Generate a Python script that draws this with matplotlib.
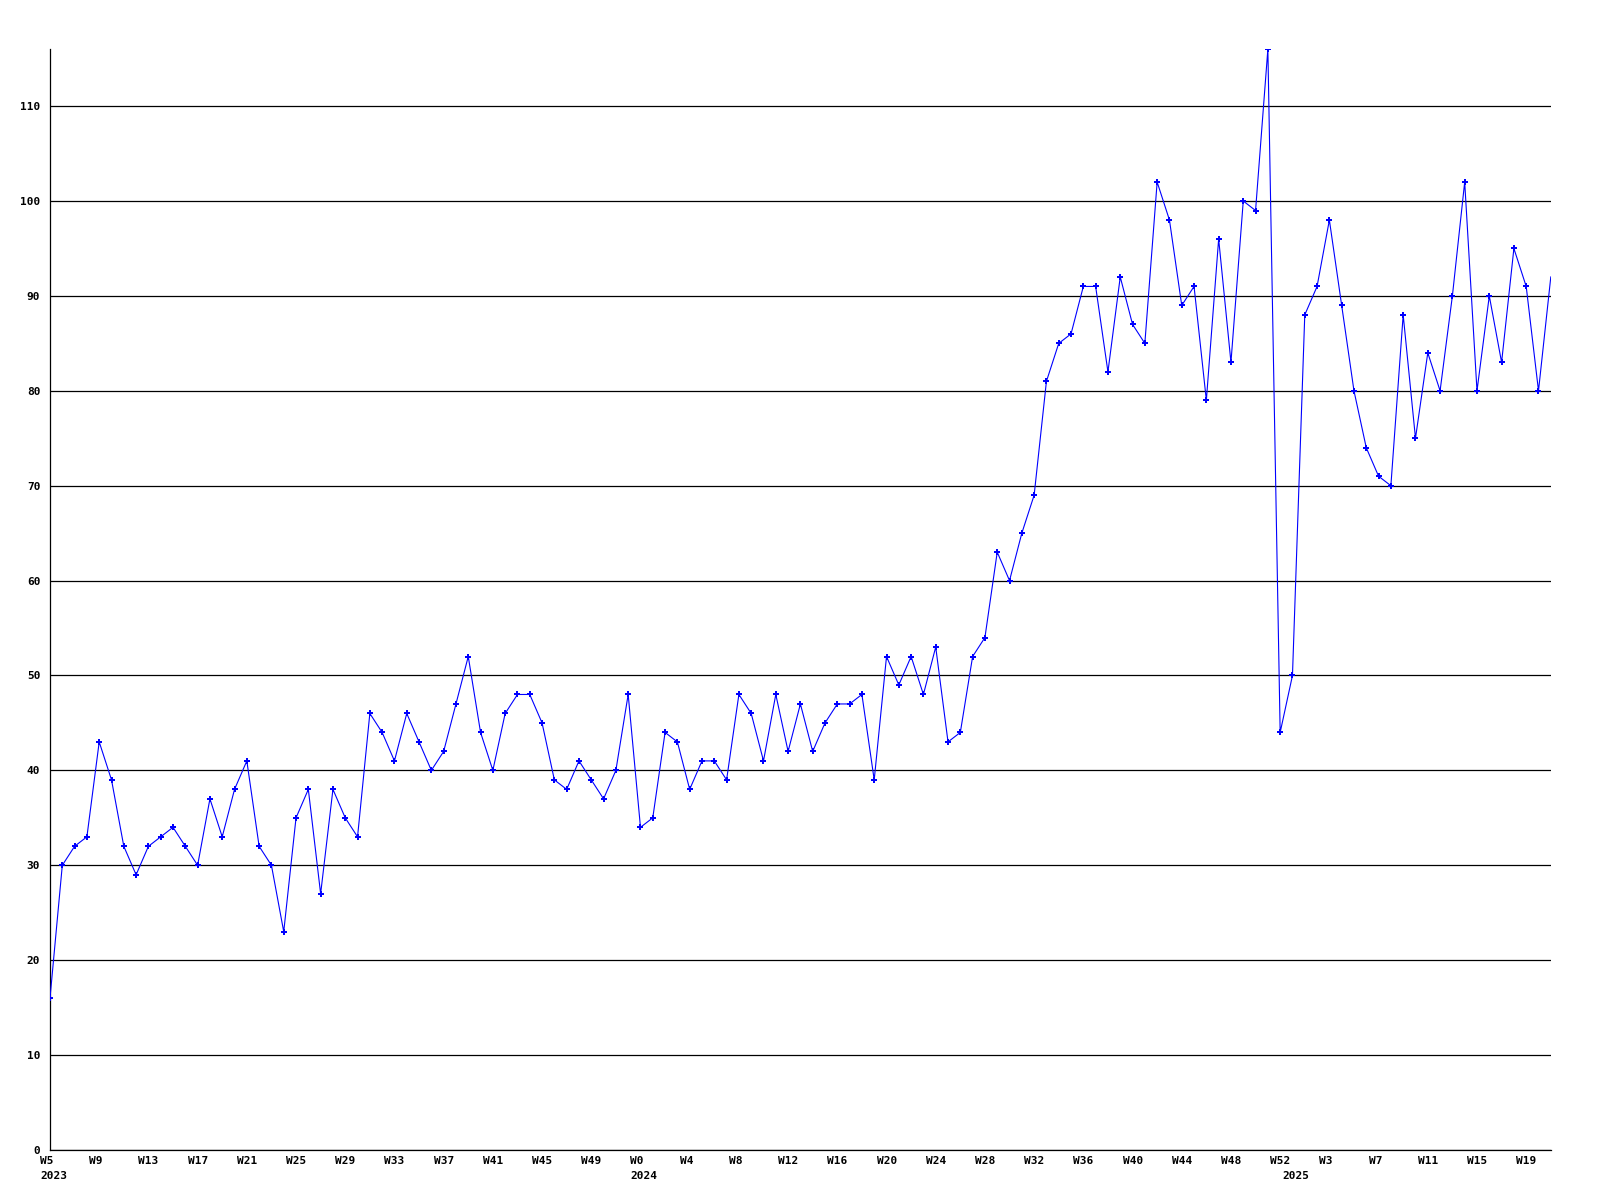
import matplotlib
matplotlib.use("Agg")
import matplotlib.pyplot as plt
from matplotlib.transforms import ScaledTranslation

# weekly values, 2023-W5 .. 2025-W21
vals_2023 = [16, 30, 32, 33, 43, 39, 32, 29, 32, 33, 34, 32, 30, 37, 33, 38,
             41, 32, 30, 23, 35, 38, 27, 38, 35, 33, 46, 44, 41, 46, 43, 40,
             42, 47, 52, 44, 40, 46, 48, 48, 45, 39, 38, 41, 39, 37, 40, 48]
vals_2024 = [34, 35, 44, 43, 38, 41, 41, 39, 48, 46, 41, 48, 42, 47, 42, 45,
             47, 47, 48, 39, 52, 49, 52, 48, 53, 43, 44, 52, 54, 63, 60, 65,
             69, 81, 85, 86, 91, 91, 82, 92, 87, 85, 102, 98, 89, 91, 79, 96,
             83, 100, 99, 116, 44]
vals_2025 = [50, 88, 91, 98, 89, 80, 74, 71, 70, 88, 75, 84, 80, 90, 102, 80,
             90, 83, 95, 91, 80, 92]

weeks_2023 = list(range(5, 53))
weeks_2024 = list(range(0, 53))
weeks_2025 = list(range(0, 22))
years = ["2023", "2024", "2025"]

values = vals_2023 + vals_2024 + vals_2025
weeks = weeks_2023 + weeks_2024 + weeks_2025
year_start = [0, len(vals_2023), len(vals_2023) + len(vals_2024)]

font = {"family": "DejaVu Sans Mono", "weight": "bold", "size": 8}

fig = plt.figure(figsize=(16, 12), dpi=100)
ax = fig.add_axes([0.03125, 0.0417, 0.938, 0.9173])

# last point sits on the right edge, no marker there
ax.plot(range(len(values)), values, color="#0000ff", linewidth=0.8,
        marker="P", markersize=4, markeredgewidth=0, zorder=3,
        markevery=list(range(len(values) - 1)))

ax.set_xlim(0, len(values) - 1)
ax.set_ylim(0, max(values))

ax.set_yticks(range(0, 111, 10))
ax.set_yticklabels([str(v) for v in range(0, 111, 10)], fontdict=font)
ax.yaxis.grid(True, color="black", linewidth=0.9)
ax.set_axisbelow(True)

xt = list(range(0, len(values), 4))
ax.set_xticks(xt)
ax.set_xticklabels(["W%d" % weeks[i] for i in xt], fontdict=font, ha="left")
ax.tick_params(axis="both", length=0)
ax.tick_params(axis="y", pad=7)
ax.tick_params(axis="x", pad=4)
shift = ScaledTranslation(-0.10, 0, fig.dpi_scale_trans)
for lab in ax.get_xticklabels():
    lab.set_transform(lab.get_transform() + shift)

for y, i in zip(years, year_start):
    ax.annotate(y, xy=(i, 0), xycoords=("data", "axes fraction"),
                xytext=(-7.2, -15), textcoords="offset points",
                ha="left", va="top", **font)

for s in ["top", "right"]:
    ax.spines[s].set_visible(False)
ax.spines["left"].set_linewidth(0.9)
ax.spines["bottom"].set_linewidth(0.9)

fig.savefig("out.png", dpi=100, facecolor="white")
